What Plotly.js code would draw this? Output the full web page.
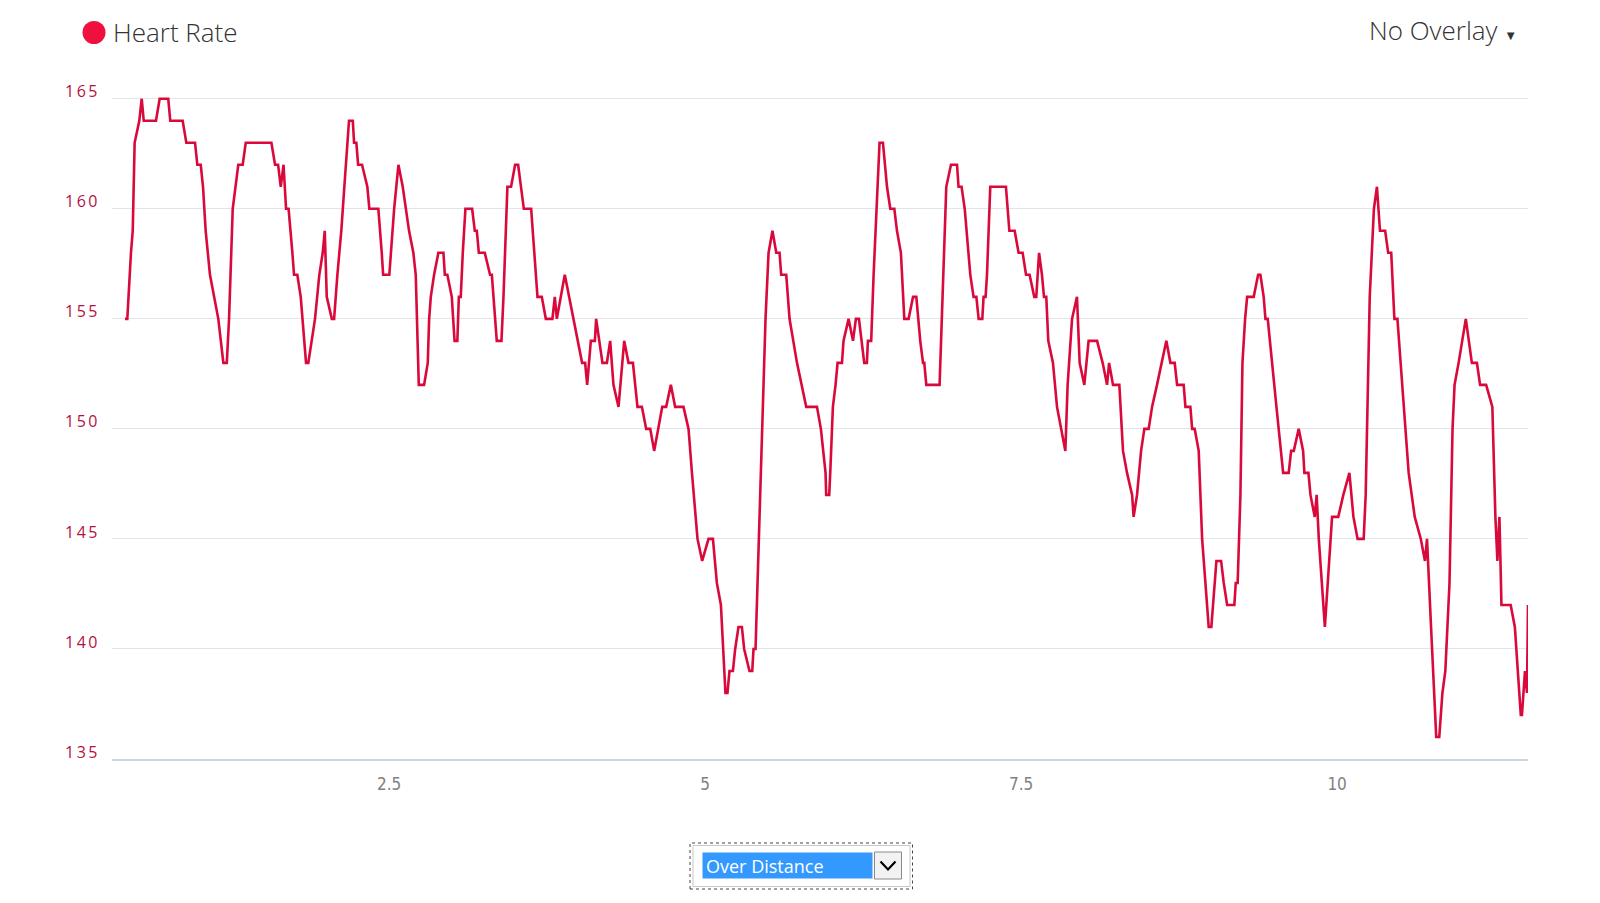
<!DOCTYPE html>
<html><head><meta charset="utf-8">
<script src="https://cdn.plot.ly/plotly-3.0.1.min.js"></script>
<style>
html,body{margin:0;padding:0;background:#fff;}
#chart{width:1600px;height:903px;}
.ytick text{letter-spacing:2.5px;}
</style></head><body><div id="chart"></div>
<script>
// ---- data (distance vs heart rate) ----
const distance = [
0.411,0.429,0.458,0.472,0.487,0.524,0.543,0.559,0.656,0.685,0.753,0.769,0.867,0.896,0.965,0.983,1.010,1.028,1.049,1.065,
1.083,1.149,1.189,1.216,1.234,1.263,1.307,1.342,1.366,1.569,1.598,1.622,1.643,1.665,1.685,1.705,1.717,1.735,1.748,1.774,
1.801,1.843,1.861,1.914,1.948,1.975,1.991,2.007,2.047,2.065,2.091,2.107,2.122,2.146,2.160,2.183,2.213,2.223,2.241,2.255,
2.286,2.328,2.344,2.415,2.442,2.453,2.502,2.540,2.574,2.608,2.658,2.692,2.711,2.735,2.777,2.806,2.817,2.830,2.856,2.890,
2.930,2.941,2.961,2.996,3.018,3.040,3.052,3.067,3.083,3.104,3.157,3.178,3.194,3.210,3.257,3.299,3.313,3.341,3.352,3.389,
3.405,3.436,3.465,3.497,3.521,3.566,3.624,3.674,3.708,3.740,3.792,3.811,3.827,3.890,3.959,3.996,4.027,4.051,4.067,4.096,
4.128,4.138,4.162,4.188,4.223,4.249,4.275,4.315,4.360,4.394,4.429,4.465,4.500,4.534,4.566,4.597,4.661,4.692,4.729,4.763,
4.829,4.869,4.896,4.922,4.940,4.977,5.027,5.062,5.093,5.125,5.146,5.161,5.177,5.193,5.220,5.238,5.264,5.291,5.309,5.351,
5.373,5.383,5.399,5.436,5.478,5.502,5.533,5.563,5.589,5.602,5.642,5.668,5.695,5.727,5.800,5.885,5.916,5.937,5.953,5.958,
5.982,5.990,6.011,6.032,6.048,6.083,6.095,6.135,6.170,6.193,6.217,6.259,6.280,6.288,6.314,6.333,6.380,6.407,6.439,6.465,
6.497,6.518,6.549,6.576,6.610,6.645,6.671,6.702,6.724,6.734,6.750,6.855,6.866,6.882,6.908,6.945,6.993,7.005,7.029,7.054,
7.080,7.098,7.124,7.146,7.164,7.193,7.203,7.219,7.230,7.240,7.256,7.380,7.407,7.449,7.480,7.512,7.539,7.567,7.604,7.620,
7.642,7.665,7.681,7.699,7.715,7.752,7.784,7.850,7.868,7.903,7.942,7.963,8.000,8.034,8.101,8.145,8.180,8.196,8.227,8.277,
8.306,8.338,8.378,8.390,8.417,8.449,8.475,8.509,8.536,8.575,8.649,8.681,8.715,8.734,8.786,8.800,8.839,8.853,8.873,8.905,
8.932,8.958,8.984,9.005,9.045,9.082,9.103,9.130,9.187,9.198,9.213,9.235,9.251,9.272,9.288,9.340,9.375,9.393,9.419,9.433,
9.451,9.520,9.573,9.617,9.636,9.657,9.696,9.731,9.741,9.773,9.789,9.823,9.838,9.855,9.903,9.960,10.009,10.049,10.097,10.129,
10.162,10.210,10.226,10.258,10.291,10.315,10.339,10.380,10.404,10.428,10.453,10.477,10.566,10.614,10.662,10.695,10.711,10.743,10.784,10.808,
10.833,10.856,10.889,10.913,10.929,10.961,11.018,11.066,11.106,11.131,11.179,11.228,11.252,11.268,11.284,11.300,11.373,11.406,11.453,11.462,
11.486,11.502,11.510
];
const heartRate = [
155,155,158,159,163,164,165,164,164,165,165,164,164,163,163,162,162,161,159,158,
157,155,153,153,155,160,162,162,163,163,162,162,161,162,160,160,159,158,157,157,
156,153,153,155,157,158,159,156,155,155,157,158,159,161,162,164,164,163,163,162,
162,161,160,160,158,157,157,160,162,161,159,158,157,152,152,153,155,156,157,158,
158,157,157,156,154,154,156,156,158,160,160,159,159,158,158,157,157,155,154,154,
156,161,161,162,162,160,160,156,156,155,155,156,155,157,155,154,153,153,152,154,
154,155,154,153,153,154,152,151,154,153,153,151,151,150,150,149,151,151,152,151,
151,150,148,146,145,144,145,145,143,142,140,138,138,139,139,140,141,141,140,139,
139,140,140,147,155,158,159,158,158,157,157,155,154,153,151,151,150,149,148,147,
147,148,151,152,153,153,154,155,154,155,155,153,153,154,154,157,163,163,161,160,
160,159,158,155,155,156,156,154,153,153,152,152,154,157,161,162,162,161,161,160,
158,157,156,156,155,155,156,156,157,159,161,161,159,159,158,158,157,157,156,156,
158,157,156,156,154,153,151,149,152,155,156,153,152,154,154,153,152,153,152,152,
149,148,147,146,147,149,150,150,151,152,154,153,153,152,152,151,151,150,150,149,
145,143,141,141,144,144,143,142,142,143,143,147,153,155,156,156,157,157,156,155,
155,151,148,148,149,149,150,149,148,148,147,146,147,145,141,146,146,147,148,146,
145,145,147,156,160,161,159,159,158,158,155,155,148,146,145,144,145,141,136,136,
138,139,143,150,152,153,155,153,153,152,152,151,146,144,146,142,142,141,137,137,
139,138,142
];
const xTickValues = [2.5, 5, 7.5, 10];
const xTickLabels = ['2.5', '5', '7.5', '10'];
const yTickValues = [135, 140, 145, 150, 155, 160, 165];
const yTickLabels = ['135', '140', '145', '150', '155', '160', '165'];
const seriesName = 'Heart Rate';
const overlayLabel = 'No Overlay';
const modeLabel = 'Over Distance';

// ---- layout geometry (pixels) ----
const W = 1600, H = 903, L = 112, R = 1528, T = 97, B = 759;
const px = x => (x - L) / (R - L);
const py = y => (B - y) / (B - T);

const trace = {
  x: distance, y: heartRate, type: 'scatter', mode: 'lines', name: seriesName,
  line: {color: '#d90a3b', width: 2.6, shape: 'linear'}, hoverinfo: 'x+y'
};

const shapes = [
  // legend marker
  {type: 'circle', xref: 'paper', yref: 'paper', x0: px(82.5), x1: px(105.5), y0: py(44), y1: py(21),
   fillcolor: '#f0103f', line: {width: 0}},
  // dropdown outer dotted frame
  {type: 'rect', xref: 'paper', yref: 'paper', x0: px(690), x1: px(912.5), y0: py(889), y1: py(843),
   fillcolor: 'rgba(0,0,0,0)', line: {color: '#444', width: 1, dash: 'dot'}},
  // select box
  {type: 'rect', xref: 'paper', yref: 'paper', x0: px(693), x1: px(910), y0: py(886.5), y1: py(845.5),
   fillcolor: '#ffffff', line: {color: '#c8c8c8', width: 1}},
  // selection highlight
  {type: 'rect', xref: 'paper', yref: 'paper', x0: px(702.5), x1: px(872.5), y0: py(878.5), y1: py(852.5),
   fillcolor: '#3399ff', line: {width: 0}},
  // arrow button
  {type: 'rect', xref: 'paper', yref: 'paper', x0: px(874.5), x1: px(901.5), y0: py(879), y1: py(852),
   fillcolor: '#f2f2f2', line: {color: '#8a8a8a', width: 1}},
  // chevron
  {type: 'path', xref: 'paper', yref: 'paper',
   path: 'M ' + px(880.5) + ' ' + py(861.5) + ' L ' + px(888) + ' ' + py(869.5) + ' L ' + px(895.5) + ' ' + py(861.5),
   line: {color: '#000', width: 2.2}}
];

const annotations = [
  {text: seriesName, xref: 'paper', yref: 'paper', x: px(111), y: py(32), xanchor: 'left', yanchor: 'middle',
   showarrow: false, font: {family: 'Open Sans, sans-serif', size: 26, color: '#333', weight: 300}},
  {text: overlayLabel + ' <span style="font-size:13px">▼</span>', xref: 'paper', yref: 'paper', x: px(1519), y: py(30),
   xanchor: 'right', yanchor: 'middle', showarrow: false,
   font: {family: 'Open Sans, sans-serif', size: 26, color: '#333', weight: 300}},
  {text: modeLabel, xref: 'paper', yref: 'paper', x: px(704), y: py(866), xanchor: 'left', yanchor: 'middle',
   showarrow: false, font: {family: 'Open Sans, sans-serif', size: 18, color: '#ffffff'}}
];

const layout = {
  width: W, height: H,
  margin: {l: L, r: W - R, t: T, b: H - B, pad: 0},
  paper_bgcolor: '#ffffff', plot_bgcolor: '#ffffff',
  showlegend: false,
  xaxis: {
    range: [0.308, 11.51], tickmode: 'array', tickvals: xTickValues, ticktext: xTickLabels,
    showgrid: false, zeroline: false, showline: true, linecolor: '#cdd5dd', linewidth: 1.5,
    ticks: '', ticklabelstandoff: 9,
    tickfont: {family: 'Liberation Sans Narrow, DejaVu Sans Condensed, sans-serif', size: 17, color: '#808080'}
  },
  yaxis: {
    range: [135, 165.08], tickmode: 'array', tickvals: yTickValues, ticktext: yTickLabels,
    showgrid: true, gridcolor: '#e2e4e8', gridwidth: 1, zeroline: false, showline: false,
    ticks: '', ticklabelstandoff: 11, ticklabelshift: -7,
    tickfont: {family: 'Open Sans, sans-serif', size: 16, color: '#b5123f'}
  },
  shapes: shapes,
  annotations: annotations
};

Plotly.newPlot('chart', [trace], layout, {displayModeBar: false, staticPlot: true});
</script></body></html>
